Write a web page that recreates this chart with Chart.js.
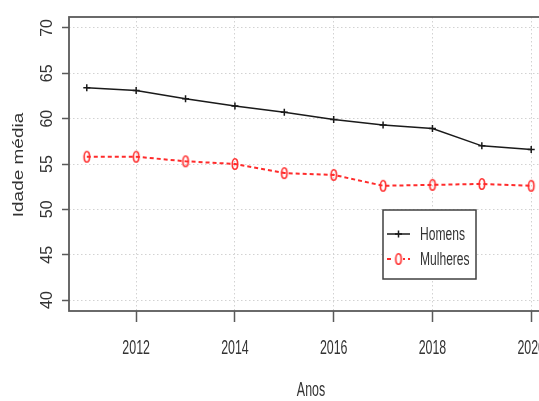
<!DOCTYPE html>
<html>
<head>
<meta charset="utf-8">
<script src="https://cdn.jsdelivr.net/npm/chart.js@4"></script>
<style>
  html, body { margin: 0; padding: 0; background: #fff; overflow: hidden; }
  #wrap { width: 539px; height: 401px; overflow: hidden; }
  canvas { display: block; }
</style>
</head>
<body>
<div id="wrap"><canvas id="c" width="560" height="401"></canvas></div>
<script>
// Mean age by year
const anos     = [2011, 2012, 2013, 2014, 2015, 2016, 2017, 2018, 2019, 2020];
const homens   = [63.4, 63.1, 62.2, 61.4, 60.7, 59.9, 59.3, 58.9, 57.0, 56.6];
const mulheres = [55.8, 55.8, 55.3, 55.0, 54.0, 53.8, 52.6, 52.7, 52.8, 52.6];

const seriesNames = ['Homens', 'Mulheres'];
const xTicks = [2012, 2014, 2016, 2018, 2020];
const yTicks = [40, 45, 50, 55, 60, 65, 70];
const xTitle = 'Anos';
const yTitle = 'Idade média';

const TEXT = '#333333';
const FRAME = '#5a5a5a';
const RED = '#ff2b2b';

// open oval marker (pch 1 look)
function ovalMarker(color) {
  const c = document.createElement('canvas');
  c.width = 10; c.height = 16;
  const g = c.getContext('2d');
  g.strokeStyle = color;
  g.lineWidth = 1.6;
  g.beginPath();
  g.ellipse(5, 8, 2.7, 5.3, 0, 0, Math.PI * 2);
  g.stroke();
  return c;
}
const oval = ovalMarker(RED);

function narrowText(ctx, text, x, y, sx, align) {
  ctx.save();
  ctx.translate(x, y);
  ctx.scale(sx, 1);
  ctx.textAlign = align;
  ctx.textBaseline = 'alphabetic';
  ctx.fillText(text, 0, 0);
  ctx.restore();
}

const frameAndText = {
  id: 'frameAndText',
  afterDatasetsDraw(chart) {
    const ctx = chart.ctx;
    const a = chart.chartArea;
    const xs = chart.scales.x;

    // plot box
    ctx.save();
    ctx.strokeStyle = FRAME;
    ctx.lineWidth = 1.8;
    ctx.strokeRect(a.left, a.top, a.right - a.left, a.bottom - a.top);
    ctx.restore();

    // x tick labels
    ctx.save();
    ctx.fillStyle = TEXT;
    ctx.font = '20px "Liberation Sans", Arial, sans-serif';
    xs.ticks.forEach(t => {
      narrowText(ctx, String(t.value), xs.getPixelForValue(t.value), 354, 0.62, 'center');
    });
    // x title
    narrowText(ctx, xTitle, (a.left + 549) / 2 + 2, 396, 0.62, 'center');
    // y title
    ctx.translate(19, (a.top + a.bottom) / 2 + 1);
    ctx.rotate(-Math.PI / 2);
    ctx.scale(1, 0.8);
    ctx.font = '19px "Liberation Sans", Arial, sans-serif';
    ctx.textAlign = 'center';
    ctx.textBaseline = 'middle';
    ctx.fillText(yTitle, 0, 0);
    ctx.restore();

    // legend
    const box = { left: 383, top: 210, right: 476, bottom: 279 };
    const rows = [234, 259];
    ctx.save();
    ctx.fillStyle = '#ffffff';
    ctx.fillRect(box.left, box.top, box.right - box.left, box.bottom - box.top);
    ctx.strokeStyle = '#404040';
    ctx.lineWidth = 1.5;
    ctx.strokeRect(box.left, box.top, box.right - box.left, box.bottom - box.top);
    chart.data.datasets.forEach((ds, i) => {
      const y = rows[i];
      ctx.save();
      ctx.strokeStyle = ds.borderColor;
      ctx.lineWidth = ds.borderWidth;
      ctx.setLineDash(ds.borderDash || []);
      ctx.beginPath();
      ctx.moveTo(387, y);
      ctx.lineTo(410, y);
      ctx.stroke();
      ctx.setLineDash([]);
      if (ds.pointStyle === 'cross') {
        ctx.lineWidth = ds.pointBorderWidth;
        ctx.strokeStyle = ds.pointBorderColor;
        ctx.beginPath();
        ctx.moveTo(398.5 - 3.5, y); ctx.lineTo(398.5 + 3.5, y);
        ctx.moveTo(398.5, y - 3.5); ctx.lineTo(398.5, y + 3.5);
        ctx.stroke();
      } else {
        ctx.fillStyle = '#ffffff';
        ctx.fillRect(394, y - 8, 9, 16);
        ctx.drawImage(ds.pointStyle, 398.5 - 5, y - 8);
      }
      ctx.restore();
      ctx.fillStyle = TEXT;
      ctx.font = '18px "Liberation Sans", Arial, sans-serif';
      narrowText(ctx, ds.label, 420, y + 6, 0.67, 'left');
    });
    ctx.restore();
  }
};

new Chart(document.getElementById('c'), {
  type: 'line',
  data: {
    datasets: [
      {
        label: seriesNames[0],
        data: anos.map((x, i) => ({ x, y: homens[i] })),
        borderColor: '#1a1a1a',
        borderWidth: 1.5,
        pointStyle: 'cross',
        pointRadius: 3.5,
        pointBorderWidth: 1.5,
        pointBorderColor: '#1a1a1a',
        tension: 0
      },
      {
        label: seriesNames[1],
        data: anos.map((x, i) => ({ x, y: mulheres[i] })),
        borderColor: RED,
        borderWidth: 2,
        borderDash: [4, 3],
        pointStyle: oval,
        pointRadius: 5,
        tension: 0
      }
    ]
  },
  options: {
    responsive: false,
    animation: false,
    devicePixelRatio: 1,
    layout: { padding: { top: 17, right: 11, left: 0, bottom: 0 } },
    plugins: { legend: { display: false }, tooltip: { enabled: false } },
    scales: {
      x: {
        type: 'linear',
        min: 2010.64,
        max: 2020.36,
        afterBuildTicks: s => { s.ticks = xTicks.map(v => ({ value: v })); },
        afterFit: s => { s.height = 90; },
        ticks: { display: false, autoSkip: false, callback: v => String(v) },
        grid: { color: '#d2d2d2', lineWidth: 1, tickLength: 11, tickColor: FRAME, tickWidth: 1.5 },
        border: { display: false, dash: [1.5, 2.5] }
      },
      y: {
        min: 38.8,
        max: 71.2,
        afterBuildTicks: s => { s.ticks = yTicks.map(v => ({ value: v })); },
        afterFit: s => { s.width = 69; },
        ticks: {
          autoSkip: false,
          minRotation: 90,
          maxRotation: 90,
          crossAlign: 'center',
          padding: 6,
          color: TEXT,
          font: { family: '"Liberation Sans", Arial, sans-serif', size: 16 },
          callback: v => String(v)
        },
        grid: { color: '#d2d2d2', lineWidth: 1, tickLength: 7, tickColor: FRAME, tickWidth: 1.5 },
        border: { display: false, dash: [1.5, 2.5] }
      }
    }
  },
  plugins: [frameAndText]
});
</script>
</body>
</html>
